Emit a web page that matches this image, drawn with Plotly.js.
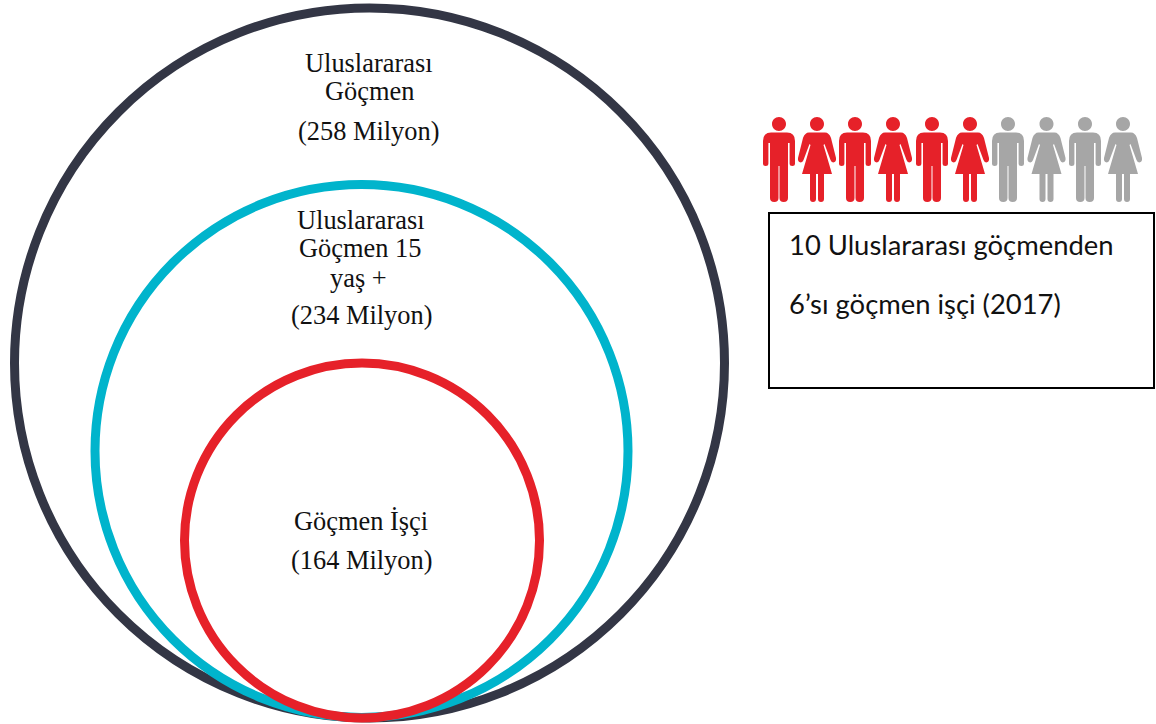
<!DOCTYPE html>
<html>
<head>
<meta charset="utf-8">
<script src="https://cdn.plot.ly/plotly-3.0.1.min.js"></script>
<style>html,body{margin:0;padding:0;background:#fff;overflow:hidden}#chart{width:1156px;height:724px}</style>
</head>
<body>
<div id="chart"></div>
<script>
// Values
const groupNames = ["Uluslararası<br>Göçmen", "Uluslararası<br>Göçmen 15<br>yaş +", "Göçmen İşçi"];
const groupMillions = [258, 234, 164];
const workersPerTen = 6;
const totalPerTen = 10;
const calloutLines = ["10 Uluslararası göçmenden", "6’sı göçmen işçi (2017)"];

// Layout of the diagram (pixel-space axis units)
const circleCx = [369.5, 361.5, 362];
const circleCy = [363, 451, 540.5];
const circleR = [355, 266.5, 177.5];
const circleColors = ["#333645", "#00b4cc", "#e62129"];
const iconX = [779, 817, 855, 893, 932, 970, 1008, 1046.5, 1085, 1123];
const iconColors = ["#e62129", "#a6a6a6"];

const head = cx => {
  const r = 7, k = 3.87, y = 124;
  return `M${cx-r},${y} C${cx-r},${y-k} ${cx-k},${y-r} ${cx},${y-r} C${cx+k},${y-r} ${cx+r},${y-k} ${cx+r},${y} ` +
    `C${cx+r},${y+k} ${cx+k},${y+r} ${cx},${y+r} C${cx-k},${y+r} ${cx-r},${y+k} ${cx-r},${y} Z`;
};

function manPath(cx) {
  const torso = `M${cx-16},141 Q${cx-16},132.5 ${cx-8},132.5 L${cx+8},132.5 Q${cx+16},132.5 ${cx+16},141 ` +
    `L${cx+16},163.5 Q${cx+16},166 ${cx+13.3},166 Q${cx+10.6},166 ${cx+10.6},163.5 L${cx+10.6},143 L${cx+9},143 ` +
    `L${cx+9},198 Q${cx+9},202 ${cx+4.7},202 Q${cx+0.5},202 ${cx+0.5},198 L${cx+0.5},166 L${cx-0.5},166 L${cx-0.5},198 ` +
    `Q${cx-0.5},202 ${cx-4.7},202 Q${cx-9},202 ${cx-9},198 L${cx-9},143 L${cx-10.6},143 L${cx-10.6},163.5 ` +
    `Q${cx-10.6},166 ${cx-13.3},166 Q${cx-16},166 ${cx-16},163.5 Z`;
  return head(cx) + " " + torso;
}
function womanPath(cx) {
  const body = `M${cx-8},132.5 L${cx+8},132.5 Q${cx+12},132.5 ${cx+14},138 L${cx+19},158 Q${cx+19.5},161.5 ${cx+17},162.3 ` +
    `Q${cx+14.5},163 ${cx+13.5},160 L${cx+7.5},144 L${cx+6.5},145 L${cx+15},174 L${cx+7},174 L${cx+7},199 ` +
    `Q${cx+7},202 ${cx+4},202 Q${cx+1},202 ${cx+1},199 L${cx+1},174 L${cx-1},174 L${cx-1},199 Q${cx-1},202 ${cx-4},202 ` +
    `Q${cx-7},202 ${cx-7},199 L${cx-7},174 L${cx-15},174 L${cx-6.5},145 L${cx-7.5},144 L${cx-13.5},160 ` +
    `Q${cx-14.5},163 ${cx-17},162.3 Q${cx-19.5},161.5 ${cx-19},158 L${cx-14},138 Q${cx-12},132.5 ${cx-8},132.5 Z`;
  return head(cx) + " " + body;
}

const shapes = [];
circleCx.forEach((cx, i) => shapes.push({
  type: "circle", xref: "x", yref: "y",
  x0: cx - circleR[i], x1: cx + circleR[i],
  y0: circleCy[i] - circleR[i], y1: circleCy[i] + circleR[i],
  line: {color: circleColors[i], width: 9}, fillcolor: "rgba(0,0,0,0)"
}));
iconX.slice(0, totalPerTen).forEach((cx, i) => shapes.push({
  type: "path", xref: "x", yref: "y",
  path: i % 2 === 0 ? manPath(cx) : womanPath(cx),
  fillcolor: i < workersPerTen ? iconColors[0] : iconColors[1],
  line: {width: 0}
}));
shapes.push({type: "rect", xref: "x", yref: "y", x0: 769, x1: 1154, y0: 213, y1: 388,
  line: {color: "#000000", width: 2}, fillcolor: "rgba(0,0,0,0)"});

const serif = {family: "Liberation Serif", size: 26.4, color: "#111111"};
const sans = {family: "Lato", size: 27.4, color: "#111111"};
const note = (text, x, y, font, xanchor) => ({
  text, x, y, xref: "x", yref: "y", showarrow: false, font,
  xanchor: xanchor || "center", yanchor: "middle", align: "center"
});
const annotations = [
  note(groupNames[0].split("<br>")[0], 369, 62.5, serif),
  note(groupNames[0].split("<br>")[1], 369, 90.5, serif),
  note(`(${groupMillions[0]} Milyon)`, 368.5, 131, serif),
  note(groupNames[1].split("<br>")[0], 361, 220, serif),
  note(groupNames[1].split("<br>")[1], 360, 248, serif),
  note(groupNames[1].split("<br>")[2], 358, 278, serif),
  note(`(${groupMillions[1]} Milyon)`, 361, 315, serif),
  note(groupNames[2], 361, 521, serif),
  note(`(${groupMillions[2]} Milyon)`, 361, 560, serif),
  note(calloutLines[0], 787, 244, sans, "left"),
  note(calloutLines[1], 787, 303, sans, "left")
];

const hiddenAxis = {visible: false, showgrid: false, zeroline: false, fixedrange: true};
Plotly.newPlot("chart", [{x: [], y: [], type: "scatter", hoverinfo: "skip", showlegend: false}], {
  width: 1156, height: 724,
  margin: {l: 0, r: 0, t: 0, b: 0, pad: 0},
  paper_bgcolor: "#ffffff", plot_bgcolor: "#ffffff",
  xaxis: Object.assign({range: [0, 1156]}, hiddenAxis),
  yaxis: Object.assign({range: [724, 0]}, hiddenAxis),
  showlegend: false, shapes, annotations
}, {staticPlot: true, displayModeBar: false});
</script>
</body>
</html>
